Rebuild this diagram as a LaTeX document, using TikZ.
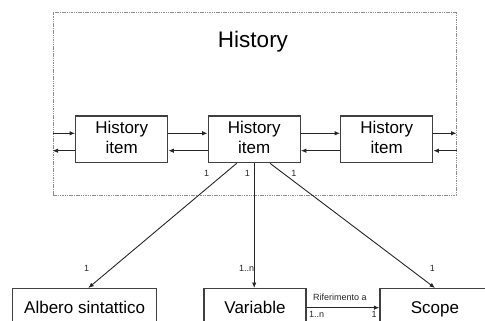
\documentclass[tikz,border=0pt]{standalone}
\usepackage{fontspec}
\setmainfont{Liberation Sans}
\usetikzlibrary{arrows.meta}

\begin{document}
\begin{tikzpicture}[x=1pt,y=-1pt,
  frame/.style={draw=black!45, line width=1pt, dash pattern=on 1.5pt off 0.8pt,
    minimum width=403pt, minimum height=182pt, inner sep=0pt},
  title/.style={font=\fontsize{22.5}{26}\selectfont, inner sep=0pt},
  item/.style={draw=black!75, line width=1.3pt, minimum width=92pt, minimum height=46.7pt,
    inner sep=0pt, align=center, font=\fontsize{17}{20.7}\selectfont, text depth=3.8pt},
  entity/.style={draw=black!75, line width=1.3pt, anchor=north, inner sep=0pt,
    text height=24.7pt, text depth=40pt, font=\fontsize{17}{20}\selectfont},
  link/.style={draw=black!85, line width=0.9pt, -{Latex[length=5.5pt,width=4.5pt]}},
  card/.style={font=\fontsize{9}{10}\selectfont, inner sep=0pt, text=black!85}]

\useasboundingbox (0,0) rectangle (485,321);
\clip (0,0) rectangle (485,321);

% History container
\node[frame] (frame) at (254.5,104) {};
\node[title] (title) at (253,42) {History};

% chain of history items
\node[item] (hl) at (121.7,139.3) {History\\item};
\node[item] (hm) at (254.2,139.3) {History\\item};
\node[item] (hr) at (386.7,139.3) {History\\item};

% entities referenced by a history item
\node[entity, minimum width=144pt] (alb) at (84.7,288) {Albero sintattico};
\node[entity, minimum width=102pt] (var) at (255,288) {Variable};
\node[entity, minimum width=110pt] (scope) at (435,288) {Scope};

% forward / backward links along the chain
\coordinate (lin)  at ([yshift=6pt]hl.west);
\coordinate (lout) at ([yshift=-11.4pt]hl.west);
\coordinate (rout) at ([yshift=6pt]hr.east);
\coordinate (rin)  at ([yshift=-11.4pt]hr.east);
\draw[link] (lin -| frame.west) -- (lin);
\draw[link] (lout) -- (lout -| frame.west);
\draw[link] ([yshift=6pt]hl.east) -- ([yshift=6pt]hm.west);
\draw[link] ([yshift=-11.4pt]hm.west) -- ([yshift=-11.4pt]hl.east);
\draw[link] ([yshift=6pt]hm.east) -- ([yshift=6pt]hr.west);
\draw[link] ([yshift=-11.4pt]hr.west) -- ([yshift=-11.4pt]hm.east);
\draw[link] (rout) -- (rout -| frame.east);
\draw[link] (rin -| frame.east) -- (rin);

% associations
\draw[link] ([xshift=-17.5pt]hm.south) -- ([xshift=3.6pt]alb.north);
\draw[link] (hm.south) -- (hm.south |- var.north);
\draw[link] ([xshift=15.8pt]hm.south) -- (scope.north);

\coordinate (ref) at ([yshift=-19.7pt]var.north east);
\draw[link] (ref) -- (ref -| scope.west);

% multiplicities
\node[card] (c1) at (206.7,173) {1};
\node[card] (c2) at (247.3,173) {1};
\node[card] (c3) at (294,173) {1};
\node[card] (c4) at (86.7,268.3) {1};
\node[card] (c5) at (246.7,268.3) {1..n};
\node[card] (c6) at (432.3,268.3) {1};
\node[card] (rl) at (340,297.7) {Riferimento a};
\node[card] (c7) at (316.7,314) {1..n};
\node[card] (c8) at (374,314) {1};

\end{tikzpicture}
\end{document}
